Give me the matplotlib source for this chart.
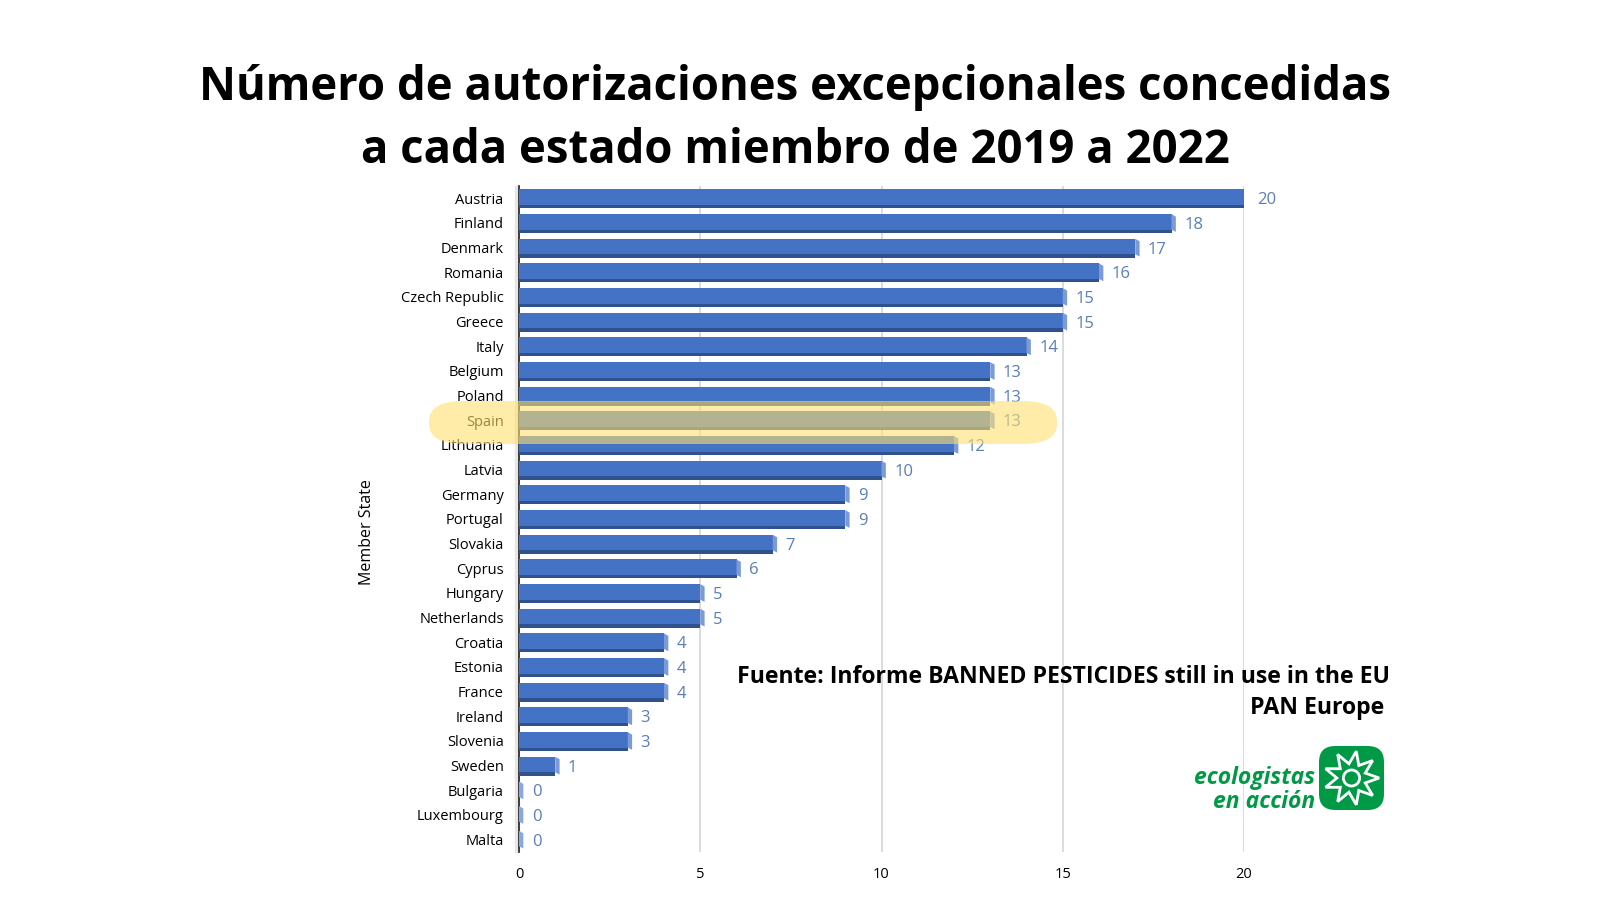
import matplotlib.pyplot as plt
from matplotlib.patches import FancyBboxPatch, Polygon, Circle
import numpy as np

countries = ["Austria", "Finland", "Denmark", "Romania", "Czech Republic", "Greece",
             "Italy", "Belgium", "Poland", "Spain", "Lithuania", "Latvia", "Germany",
             "Portugal", "Slovakia", "Cyprus", "Hungary", "Netherlands", "Croatia",
             "Estonia", "France", "Ireland", "Slovenia", "Sweden", "Bulgaria",
             "Luxembourg", "Malta"]
authorisations = [20, 18, 17, 16, 15, 15, 14, 13, 13, 13, 12, 10, 9, 9, 7, 6, 5, 5,
                  4, 4, 4, 3, 3, 1, 0, 0, 0]
x_ticks = [0, 5, 10, 15, 20]

title = "Número de autorizaciones excepcionales concedidas\na cada estado miembro de 2019 a 2022"
source_1 = "Fuente: Informe BANNED PESTICIDES still in use in the EU"
source_2 = "PAN Europe "

face = "#4472C4"
dark = "#2F528F"
cap = "#7B9BD8"
label_col = "#5B7DB8"
green = "#009A47"

fig = plt.figure(figsize=(16, 9), dpi=100)
fig.patch.set_facecolor("white")

n = len(countries)
top_px, bot_px = 186, 852
ax = fig.add_axes([519 / 1600, 1 - bot_px / 900, 725 / 1600, (bot_px - top_px) / 900])
y = np.arange(n)

# 3D-ish bars: dark bottom strip, blue face, lighter end cap
ax.barh(y + 0.02, authorisations, height=0.76, color=dark, zorder=3)
ax.barh(y - 0.045, authorisations, height=0.63, color=face, zorder=4)
for yi, v in zip(y, authorisations):
    ax.add_patch(Polygon([[v, yi - 0.36], [v + 0.12, yi - 0.26], [v + 0.12, yi + 0.36],
                          [v, yi + 0.27]], closed=True, color=cap if v > 0 else "#8AA8E0",
                         zorder=5, lw=0))
    ax.text(v + 0.35, yi + 0.08, str(v), color=label_col, fontsize=12, va="center",
            ha="left", family="Open Sans", zorder=6)

ax.set_xlim(0, 20)
ax.set_ylim(n - 0.5, -0.5)
ax.set_xticks(x_ticks)
ax.set_xticklabels([str(t) for t in x_ticks], fontsize=10.5, family="Open Sans")
ax.set_yticks(y)
ax.set_yticklabels(countries, fontsize=10.5, family="Open Sans")
ax.tick_params(length=0, pad=11)
ax.tick_params(axis="x", pad=11)
ax.grid(axis="x", color="#D6D6D6", lw=1.2, zorder=0)
for s in ["top", "right", "bottom"]:
    ax.spines[s].set_visible(False)
ax.spines["left"].set_color("#222222")
ax.spines["left"].set_linewidth(1.2)
ax.axvspan(-0.12, 0, color="#E6E6E6", zorder=1, clip_on=False)
ax.set_ylabel("Member State", fontsize=11.5, family="Open Sans")
ax.yaxis.set_label_coords(-0.198, 0.48)

# highlight of Spain
fig.patches.append(FancyBboxPatch((429 / 1600, 1 - 444 / 900), (1057 - 429) / 1600, 43 / 900,
                                  boxstyle="round,pad=0,rounding_size=0.022",
                                  transform=fig.transFigure, facecolor="#FFE070",
                                  alpha=0.6, edgecolor="none", zorder=10))

fig.text(0.497, 1 - 119 / 900, title, ha="center", va="center", fontsize=32.8,
         fontweight="bold", family="Open Sans", linespacing=1.45)

fig.text(1390 / 1600, 1 - 677 / 900, source_1, ha="right", va="center", fontsize=16.6,
         fontweight="bold", family="Open Sans")
fig.text(1390 / 1600, 1 - 708 / 900, source_2, ha="right", va="center", fontsize=16.6,
         fontweight="bold", family="Open Sans")

# logo
fig.text(1315 / 1600, 1 - 790 / 900, "ecologistas\nen acción", ha="right", va="center",
         fontsize=16.5, fontweight="bold", style="italic", color=green, family="Open Sans",
         linespacing=0.98)
lax = fig.add_axes([1319 / 1600, 1 - 810 / 900, 65 / 1600, 64 / 900])
lax.set_xlim(-1, 1)
lax.set_ylim(-1, 1)
lax.axis("off")
lax.add_patch(FancyBboxPatch((-1, -1), 2, 2, boxstyle="round,pad=0,rounding_size=0.5",
                             facecolor=green, edgecolor="none"))
ang = np.linspace(0, 2 * np.pi, 19)[:-1]
rad = np.where(np.arange(18) % 2 == 0, 0.85, 0.45)
lax.add_patch(Polygon(np.c_[rad * np.cos(ang), rad * np.sin(ang)], closed=True,
                      facecolor="none", edgecolor="white", lw=2))
lax.add_patch(Circle((0, 0), 0.25, facecolor="none", edgecolor="white", lw=2))

fig.savefig("out.png", dpi=100, facecolor="white")
